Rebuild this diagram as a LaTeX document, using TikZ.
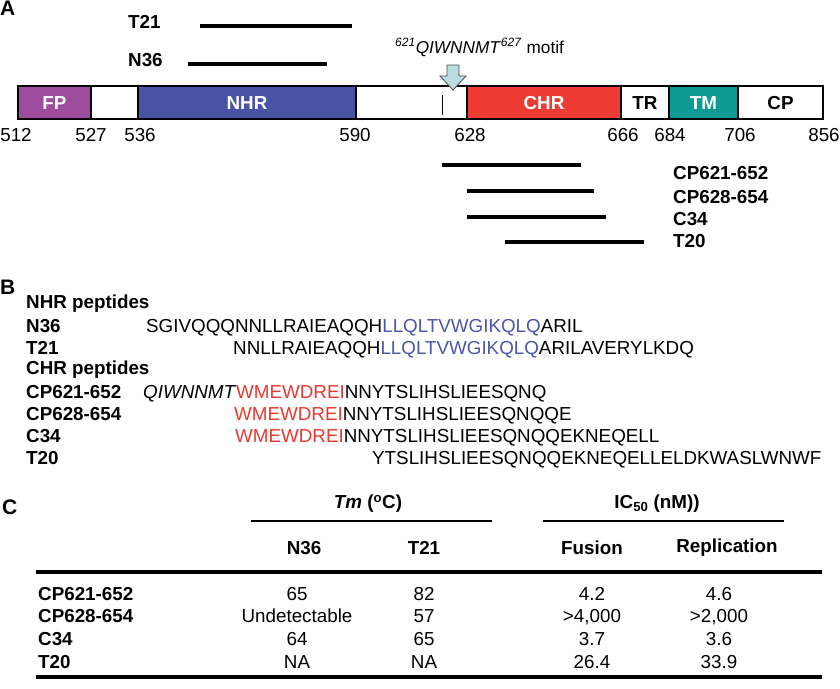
\documentclass[tikz,border=0pt]{standalone}
\usepackage{fontspec}
\setmainfont{Liberation Sans}
\usepackage{xcolor}
\definecolor{fpc}{HTML}{9E4C9E}
\definecolor{nhrc}{HTML}{4A52A3}
\definecolor{chrc}{HTML}{EE3B34}
\definecolor{tmc}{HTML}{0E9B96}
\definecolor{arrc}{HTML}{B9DDE0}
\definecolor{seqblue}{HTML}{4D55A6}
\definecolor{seqred}{HTML}{E8392F}
\newcommand\fsz{\fontsize{18.8}{22}\selectfont}
\newcommand\fmot{\fontsize{17.2}{20}\selectfont}
\newcommand\fbig{\fontsize{21}{24}\selectfont}
\tikzset{
  txt/.style={font=\fsz, inner sep=0pt, text height=13.5pt, text depth=0pt},
  btxt/.style={font=\fsz\bfseries, inner sep=0pt, text height=13.5pt, text depth=0pt},
  panel/.style={font=\fbig\bfseries, inner sep=0pt, text height=15pt, text depth=0pt, anchor=west},
  segbox/.style={draw=black, line width=1.3pt, minimum height=33pt, inner sep=0pt,
                 font=\fsz\bfseries, text height=13.5pt, text depth=0pt},
  pepline/.style={line width=3.6pt},
  rulethin/.style={line width=2.8pt},
  rulethick/.style={line width=3.8pt}
}
\begin{document}
\begin{tikzpicture}[x=1pt,y=-1pt]
\useasboundingbox (0,0) rectangle (840,688);
% ---------------- Panel A ----------------
\node[panel] (pA) at (0,8) {A};
\node[btxt, anchor=west] (lT21) at (128,22) {T21};
\node[btxt, anchor=west] (lN36) at (128,60) {N36};
\draw[pepline] (200,26) -- (352,26);
\draw[pepline] (188,64) -- (327,64);
\node[font=\fmot, inner sep=0pt, anchor=base west] (motif) at (395,53)
  {\textsuperscript{\textit{621}}\textit{QIWNNMT}\textsuperscript{\textit{627}} motif};
% segments
\node[segbox, fill=fpc, text=white, minimum width=73pt] (fp) at (54.5,102.5) {FP};
\node[segbox, fill=white, minimum width=47pt] (g1) at (114.5,102.5) {};
\node[segbox, fill=nhrc, text=white, minimum width=218pt] (nhr) at (247,102.5) {NHR};
\node[segbox, fill=white, minimum width=111pt] (g2) at (411.5,102.5) {};
\node[segbox, fill=chrc, text=white, minimum width=154pt] (chr) at (544,102.5) {CHR};
\node[segbox, fill=white, minimum width=48pt] (tr) at (645,102.5) {TR};
\node[segbox, fill=tmc, text=white, minimum width=69pt] (tm) at (703.5,102.5) {TM};
\node[segbox, fill=white, minimum width=85pt] (cp) at (780.5,102.5) {CP};
\draw[line width=1pt] (442,95) -- (442,115);
\draw[fill=arrc, draw=black!70, line width=0.8pt]
  (447,65) -- (459,65) -- (459,76) -- (466,76) -- (453,90) -- (440,76) -- (447,76) -- cycle;
% numbers
\node[txt] (n512) at (16,135) {512};
\node[txt] (n527) at (91,135) {527};
\node[txt] (n536) at (140,135) {536};
\node[txt] (n590) at (355,135) {590};
\node[txt] (n628) at (470,135) {628};
\node[txt] (n666) at (623,135) {666};
\node[txt] (n684) at (670,135) {684};
\node[txt] (n706) at (740,135) {706};
\node[txt] (n856) at (824,135) {856};
% CHR peptides
\draw[pepline] (442,165) -- (581,165);
\draw[pepline] (467,191) -- (594,191);
\draw[pepline] (467,217) -- (606,217);
\draw[pepline] (505,242) -- (644,242);
\node[btxt, anchor=west] (lcp1) at (673,173) {CP621-652};
\node[btxt, anchor=west] (lcp2) at (673,197) {CP628-654};
\node[btxt, anchor=west] (lc34) at (673,219) {C34};
\node[btxt, anchor=west] (lt20) at (673,241) {T20};
% ---------------- Panel B ----------------
\node[panel] (pB) at (0,287) {B};
\node[btxt, anchor=west, text depth=4pt] (bnhr) at (26,304) {NHR peptides};
\node[btxt, anchor=west] (bn36) at (26,326) {N36};
\node[btxt, anchor=west] (bt21) at (26,348) {T21};
\node[btxt, anchor=west, text depth=4pt] (bchr) at (26,370) {CHR peptides};
\node[btxt, anchor=west] (bcp1) at (26,392) {CP621-652};
\node[btxt, anchor=west] (bcp2) at (26,414) {CP628-654};
\node[btxt, anchor=west] (bc34) at (26,436) {C34};
\node[btxt, anchor=west] (bt20) at (26,458) {T20};
\node[txt, anchor=west] (sn36) at (146,326)
  {SGIVQQQNNLLRAIEAQQH\textcolor{seqblue}{LLQLTVWGIKQLQ}ARIL};
\node[txt, anchor=west] (st21) at (233,348)
  {NNLLRAIEAQQH\textcolor{seqblue}{LLQLTVWGIKQLQ}ARILAVERYLKDQ};
\node[txt, anchor=west] (scp1) at (143,392)
  {\textit{QIWNNMT}\textcolor{seqred}{WMEWDREI}NNYTSLIHSLIEESQNQ};
\node[txt, anchor=west] (scp2) at (234,414)
  {\textcolor{seqred}{WMEWDREI}NNYTSLIHSLIEESQNQQE};
\node[txt, anchor=west] (sc34) at (235,436)
  {\textcolor{seqred}{WMEWDREI}NNYTSLIHSLIEESQNQQEKNEQELL};
\node[txt, anchor=west] (st20) at (372,458)
  {YTSLIHSLIEESQNQQEKNEQELLELDKWASLWNWF};
% ---------------- Panel C ----------------
\node[panel] (pC) at (2,507) {C};
\node[btxt] (htm) at (368,502) {\textit{Tm} (\textsuperscript{o}C)};
\node[btxt] (hic) at (657,502) {IC\textsubscript{50} (nM))};
\draw[rulethin] (251,521) -- (492,521);
\draw[rulethin] (543,521) -- (784,521);
\node[btxt] (hn36) at (304,548) {N36};
\node[btxt] (ht21) at (424,548) {T21};
\node[btxt] (hfus) at (592,548) {Fusion};
\node[btxt, text depth=4pt] (hrep) at (727,548) {Replication};
\draw[rulethick] (36,572) -- (822,572);
\draw[rulethick] (36,677) -- (822,677);
% rows
\node[btxt, anchor=west] (r1) at (38,594) {CP621-652};
\node[btxt, anchor=west] (r2) at (38,616) {CP628-654};
\node[btxt, anchor=west] (r3) at (38,639) {C34};
\node[btxt, anchor=west] (r4) at (38,662) {T20};
\node[txt] (v11) at (297,594) {65};
\node[txt] (v12) at (424,594) {82};
\node[txt] (v13) at (592,594) {4.2};
\node[txt] (v14) at (719,594) {4.6};
\node[txt] (v21) at (297,616) {Undetectable};
\node[txt] (v22) at (424,616) {57};
\node[txt] (v23) at (592,616) {>4,000};
\node[txt] (v24) at (719,616) {>2,000};
\node[txt] (v31) at (297,639) {64};
\node[txt] (v32) at (424,639) {65};
\node[txt] (v33) at (592,639) {3.7};
\node[txt] (v34) at (719,639) {3.6};
\node[txt] (v41) at (297,662) {NA};
\node[txt] (v42) at (424,662) {NA};
\node[txt] (v43) at (592,662) {26.4};
\node[txt] (v44) at (719,662) {33.9};
\end{tikzpicture}
\end{document}
